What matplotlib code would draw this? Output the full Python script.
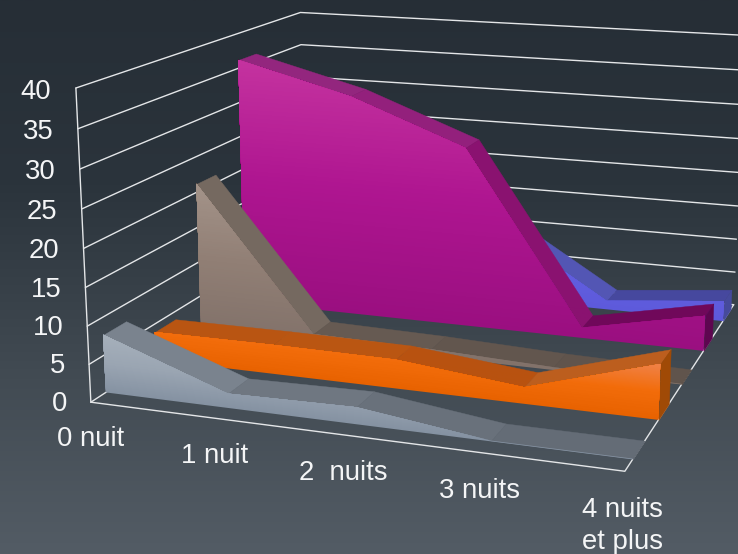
import numpy as np
import matplotlib
matplotlib.use('Agg')
import matplotlib.pyplot as plt
from matplotlib.colors import LinearSegmentedColormap
from matplotlib.path import Path
from matplotlib.transforms import Bbox
from mpl_toolkits.mplot3d import proj3d
from mpl_toolkits.mplot3d.art3d import Poly3DCollection

plt.rcParams['font.family'] = ['Liberation Sans', 'DejaVu Sans']

categories = ['0 nuit', '1 nuit', '2  nuits', '3 nuits', '4 nuits\net plus']
z_ticks = [0, 5, 10, 15, 20, 25, 30, 35, 40]

# front row first
grey = [7.7, 1.9, 2.2, 0.1, 0.1]
orange = [3.9, 4.0, 3.9, 2.2, 7.2]
taupe = [21.2, 1.3, 1.0, 0.4, 0.1]
magenta = [36.2, 32.0, 25.8, 1.5, 5.0]
blue = [9.0, 11.0, 11.5, 1.3, 3.0]

series = [grey, orange, taupe, magenta, blue]
row_fronts = [0.28, 1.28, 2.28, 3.34, 4.38]
face_stops = [['#8592A2', '#9AA5B2', '#A6B0BB'],
              ['#E86200', '#F26C0A', '#F08248'],
              ['#82726A', '#917F75', '#A39389'],
              ['#9A0F80', '#AE1590', '#C4329F'],
              ['#5D5ADB', '#625EDF', '#6864E2']]
slab_colors = [['#7A838E', '#6F7781', '#69717B', '#646C76'],
               ['#B95512', '#BA5612', '#B85210', '#BC5E1E'],
               ['#756960', '#665A52', '#62564E', '#60544C'],
               ['#93267E', '#93207C', '#8A1270', '#70085A'],
               ['#4F50AE', '#4F50AE', '#5356B4', '#46489E']]
end_colors = ['#5F6670', '#A04A06', '#5A4F48', '#5E0650', '#464A9C']

fig = plt.figure(figsize=(7.38, 5.54), dpi=100)

bg = fig.add_axes([0, 0, 1, 1], zorder=0)
bg_cmap = LinearSegmentedColormap.from_list('bg', ['#262E36', '#2B343C', '#414A52', '#535C65'])
bg.imshow(np.linspace(0, 1, 256)[:, None], aspect='auto', cmap=bg_cmap)
bg.axis('off')

S = 1000.0
cx, cy = 424.6954, 220.8739
ax = fig.add_axes([(cx - S/2)/738, (554 - cy - S/2)/554, S/738, S/554],
                  projection='3d', computed_zorder=False, zorder=1)
ax.set_axis_off()
ax.patch.set_visible(False)
ax.set_xlim(0, 4, view_margin=0)
ax.set_ylim(0, 5, view_margin=0)
ax.set_zlim(0, 40, view_margin=0)
ax.view_init(elev=14.1148, azim=-70.8459, roll=-0.0535)
ax.set_proj_type('persp', focal_length=0.3418)
ax.set_box_aspect((1.715, 1.7006, 1.0), zoom=0.7587)

grid_kw = dict(color='#E4E6E8', lw=1.0, zorder=1, solid_capstyle='round')
for z in z_ticks:
    ax.plot([0, 0, 4], [0, 5, 5], [z, z, z], **grid_kw)
ax.plot([0, 0], [0, 0], [0, 40], **grid_kw)
ax.plot([0, 4, 4], [0, 0, 5], [0, 0, 0], **grid_kw)

x = np.arange(len(categories))
n_bands = 60
depth = 0.44

zo = 2
for i in reversed(range(len(series))):
    vals = np.array(series[i], float)
    y0, y1 = row_fronts[i], row_fronts[i] + depth

    # top strip and right end, behind the front face
    top = [[(x[j], y0, vals[j]), (x[j+1], y0, vals[j+1]),
            (x[j+1], y1, vals[j+1]), (x[j], y1, vals[j])] for j in range(len(x) - 1)]
    cols = slab_colors[i]
    for quad, c in zip(top, cols):
        ax.add_collection3d(Poly3DCollection([quad], facecolors=c, edgecolors=c, linewidths=0.3, zorder=zo),
                            autolim=False)
        zo += 1
    end = [(x[-1], y0, 0), (x[-1], y1, 0), (x[-1], y1, vals[-1]), (x[-1], y0, vals[-1])]
    ax.add_collection3d(Poly3DCollection([end], facecolors=end_colors[i], edgecolors=end_colors[i],
                                         linewidths=0.3, zorder=zo), autolim=False)
    zo += 1

    # front face shading: each band covers everything above it, so no seams show
    outline = Path(np.vstack([np.column_stack([x, vals]), [[x[-1], 0], [x[0], 0], [x[0], vals[0]]]]), closed=True)
    cmap = LinearSegmentedColormap.from_list('s%d' % i, face_stops[i])
    edges = np.linspace(0, vals.max(), n_bands + 1)
    for k in range(n_bands):
        clipped = outline.clip_to_bbox(Bbox([[x[0], edges[k]], [x[-1], vals.max()]]))
        v = clipped.vertices
        if len(v) < 3:
            continue
        c = cmap((k + 0.5) / n_bands)
        poly = [(a, y0, b) for a, b in v]
        ax.add_collection3d(Poly3DCollection([poly], facecolors=[c], edgecolors='none', linewidths=0, zorder=zo),
                            autolim=False)
        zo += 1


def label(x3, y3, z3, s, **kw):
    # place 2D text where a 3D point lands on the canvas
    px, py, _ = proj3d.proj_transform(x3, y3, z3, ax.get_proj())
    ax.text2D(px, py, s, transform=ax.transData, fontsize=19.8, color='#F4F5F6', zorder=zo, **kw)


for z in z_ticks:
    label(-0.2, 0, z - 0.65, str(z), ha='right', va='center')
for xi, name in zip(x, categories):
    label(xi - 0.01, 0, -3.2, name, ha='center', va='top', linespacing=1.3)

fig.savefig('out.png', dpi=100)
